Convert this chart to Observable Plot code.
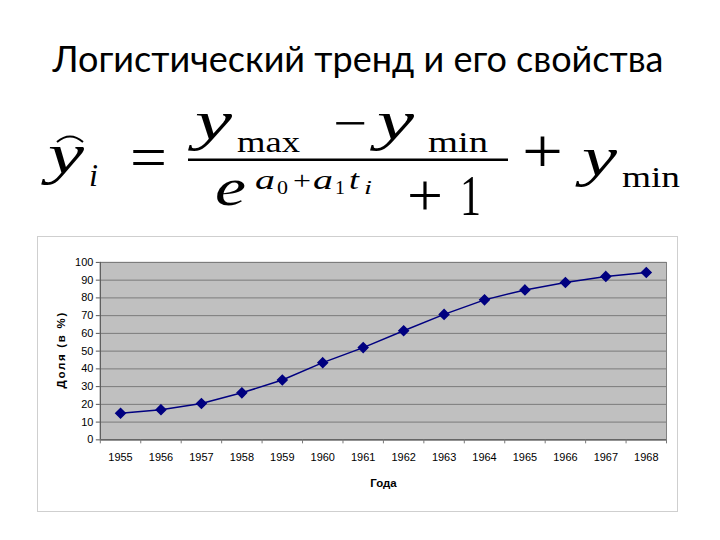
<!DOCTYPE html>
<html><head><meta charset="utf-8">
<script src="https://cdn.jsdelivr.net/npm/d3@7"></script>
<script src="https://cdn.jsdelivr.net/npm/@observablehq/plot@0.6"></script>
<style>
html,body{margin:0;padding:0;background:#fff;width:720px;height:540px;overflow:hidden;position:relative;font-family:"Liberation Sans",Arial,sans-serif;}
#title{position:absolute;left:0;top:0;}
#formula{position:absolute;left:0;top:0;}
#box{position:absolute;left:37px;top:236px;width:641px;height:276px;border:1px solid #cfcfcf;box-sizing:border-box;background:#fff;}
#box svg{position:absolute;left:-1px;top:-1px;}
#box g[aria-label$="tick label"]{font-size:11px;}
</style></head>
<body>
<svg id="title" width="720" height="100">
  <text x="358" y="72" text-anchor="middle" font-family="Lato" font-size="36" textLength="611" lengthAdjust="spacingAndGlyphs" fill="#000">Логистический тренд и его свойства</text>
</svg>
<svg id="formula" width="720" height="236" font-family="Liberation Serif" fill="#000">
  <g font-style="italic">
    <text x="48" y="173" font-size="58" textLength="36" lengthAdjust="spacingAndGlyphs">y</text>
    <text x="89" y="186" font-size="32" textLength="9" lengthAdjust="spacingAndGlyphs">i</text>
    <text x="195" y="139" font-size="54" textLength="37" lengthAdjust="spacingAndGlyphs">y</text>
    <text x="377" y="139" font-size="54" textLength="37" lengthAdjust="spacingAndGlyphs">y</text>
    <text x="215" y="205" font-size="52" textLength="31" lengthAdjust="spacingAndGlyphs">e</text>
    <text x="255" y="189" font-size="27" textLength="20" lengthAdjust="spacingAndGlyphs">a</text>
    <text x="313" y="189" font-size="27" textLength="20" lengthAdjust="spacingAndGlyphs">a</text>
    <text x="349" y="189" font-size="27" textLength="10" lengthAdjust="spacingAndGlyphs">t</text>
    <text x="364" y="194" font-size="18" textLength="8" lengthAdjust="spacingAndGlyphs">i</text>
    <text x="582" y="175" font-size="54" textLength="35" lengthAdjust="spacingAndGlyphs">y</text>
  </g>
  <path d="M57,142 Q70,131 83,142" fill="none" stroke="#000" stroke-width="2"/>
  <text x="130" y="177" font-size="60" textLength="37" lengthAdjust="spacingAndGlyphs">=</text>
  <text x="237" y="152" font-size="30" textLength="63" lengthAdjust="spacingAndGlyphs">max</text>
  <text x="333" y="140" font-size="50" textLength="34" lengthAdjust="spacingAndGlyphs">−</text>
  <text x="428" y="152" font-size="30" textLength="60" lengthAdjust="spacingAndGlyphs">min</text>
  <rect x="188" y="158.5" width="320" height="2.5"/>
  <text x="277" y="194" font-size="18" textLength="11" lengthAdjust="spacingAndGlyphs">0</text>
  <text x="293" y="189" font-size="26" textLength="18" lengthAdjust="spacingAndGlyphs">+</text>
  <text x="335" y="194" font-size="18" textLength="10" lengthAdjust="spacingAndGlyphs">1</text>
  <text x="407" y="215" font-size="60" textLength="36" lengthAdjust="spacingAndGlyphs">+</text>
  <text x="460" y="215" font-size="58" textLength="21" lengthAdjust="spacingAndGlyphs">1</text>
  <text x="522" y="173" font-size="64" textLength="41" lengthAdjust="spacingAndGlyphs">+</text>
  <text x="622" y="187" font-size="30" textLength="58" lengthAdjust="spacingAndGlyphs">min</text>
</svg>
<div id="box"></div>
<script>
const years = [1955,1956,1957,1958,1959,1960,1961,1962,1963,1964,1965,1966,1967,1968];
const shares = [15,17,20.5,26.5,33.7,43.5,52,61.5,70.7,78.9,84.5,88.7,92.1,94.3];
const yTicks = [0,10,20,30,40,50,60,70,80,90,100];
const yLabel = "Доля (в %)";
const xLabel = "Года";

const data = years.map((y,i)=>({year:y, share:shares[i]}));
const bounds = years.map(y=>y-0.5).concat([years[years.length-1]+0.5]);

const W = 641, H = 276, mT = 26, mB = 72;
const chart = Plot.plot({
  width: W, height: H,
  marginLeft: 63, marginRight: 10, marginTop: mT, marginBottom: mB,
  style:{fontFamily:"Liberation Sans, Arial, sans-serif", fontSize:"11px", color:"#000", background:"transparent"},
  x:{type:"linear", domain:[bounds[0], bounds[bounds.length-1]]},
  y:{domain:[0,100]},
  marks:[
    Plot.frame({fill:"#c0c0c0", stroke:"#808080"}),
    Plot.gridY(yTicks, {stroke:"#7a7a7a", strokeOpacity:1, strokeWidth:1}),
    Plot.ruleX([bounds[0]], {stroke:"#555"}),
    Plot.ruleY([0], {stroke:"#555"}),
    Plot.axisY(yTicks, {tickSize:4, tickPadding:3, stroke:"#555", label:null}),
    Plot.axisX(bounds, {tickSize:4, tickFormat:()=>"", stroke:"#777", label:null}),
    Plot.axisX(years, {tickSize:0, tickPadding:13, tickFormat:d=>String(d), label:null}),
    Plot.text([xLabel], {frameAnchor:"bottom", dy:47, fontWeight:"bold", fontSize:11.5}),
    Plot.line(data, {x:"year", y:"share", stroke:"#000080", strokeWidth:1.5}),
    Plot.dot(data, {x:"year", y:"share", symbol:"diamond2", fill:"#000080", stroke:"#000080", r:4.3})
  ]
});
document.getElementById("box").appendChild(chart);
// y label rotated
d3.select(chart).append("text")
  .attr("transform","translate(24,"+(mT+(H-mT-mB)/2)+") rotate(-90)")
  .attr("text-anchor","middle").attr("dy","0.35em").attr("font-weight","bold").attr("font-size",11.5)
  .attr("textLength",76).attr("lengthAdjust","spacing").text(yLabel);
</script>
</body></html>
